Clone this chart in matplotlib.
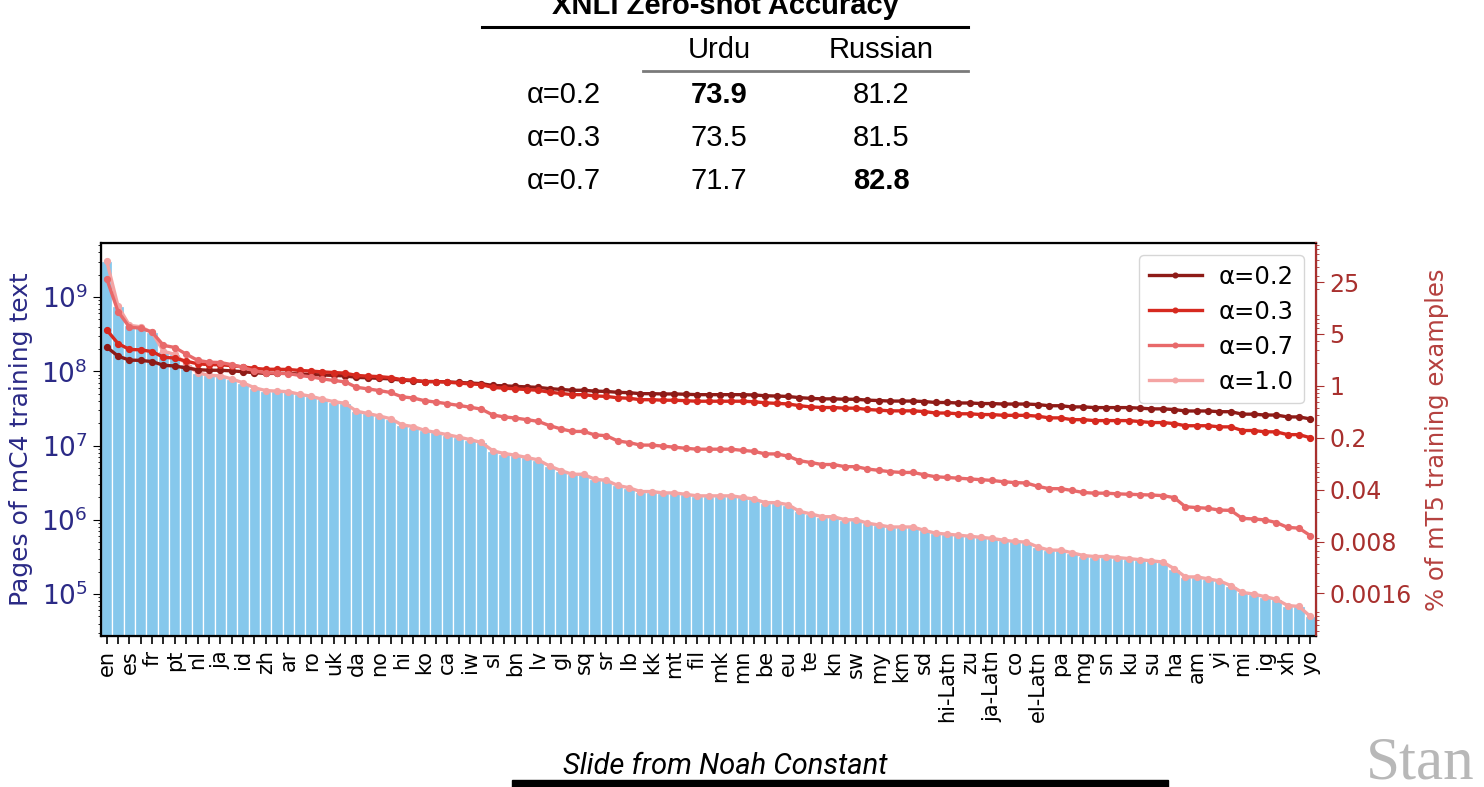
import numpy as np
import matplotlib.pyplot as plt
from matplotlib.lines import Line2D
from matplotlib.patches import Rectangle
from matplotlib.ticker import LogLocator, NullFormatter

# mC4 languages, sorted by size
langs = ['en', 'ru', 'es', 'de', 'fr', 'it', 'pt', 'pl', 'nl', 'tr',
         'ja', 'vi', 'id', 'cs', 'zh', 'fa', 'ar', 'sv', 'ro', 'el',
         'uk', 'hu', 'da', 'fi', 'no', 'bg', 'hi', 'sk', 'ko', 'th',
         'ca', 'ms', 'iw', 'lt', 'sl', 'mr', 'bn', 'et', 'lv', 'az',
         'gl', 'cy', 'sq', 'ta', 'sr', 'ne', 'lb', 'hy', 'kk', 'ka',
         'mt', 'af', 'fil', 'is', 'mk', 'ml', 'mn', 'ur', 'be', 'la',
         'eu', 'tg', 'te', 'fy', 'kn', 'ky', 'sw', 'so', 'my', 'uz',
         'km', 'ru-Latn', 'sd', 'gu', 'hi-Latn', 'jv', 'zu', 'si', 'ja-Latn', 'eo',
         'co', 'ga', 'el-Latn', 'zh-Latn', 'pa', 'ceb', 'mg', 'ps', 'sn', 'gd',
         'ku', 'hmn', 'su', 'ht', 'ha', 'ny', 'am', 'bg-Latn', 'yi', 'lo',
         'mi', 'sm', 'ig', 'haw', 'xh', 'st', 'yo']

# pages of mC4 text, in millions
pages_m = [3067, 756, 416, 397, 333, 186, 169, 126, 96, 88,
           87, 79, 70, 60, 55, 54, 53, 49, 46, 42,
           39, 37, 29, 27, 25, 23, 19, 18, 16, 15,
           14, 13, 12, 11, 8.5, 7.8, 7.4, 6.9, 6.4, 5.3,
           4.6, 4.1, 4.1, 3.5, 3.4, 2.9, 2.7, 2.4, 2.4, 2.3,
           2.3, 2.2, 2.1, 2.1, 2.1, 2.1, 2.0, 1.9, 1.7, 1.7,
           1.6, 1.3, 1.2, 1.1, 1.1, 1.0, 1.0, 0.9, 0.85, 0.8,
           0.8, 0.8, 0.72, 0.66, 0.64, 0.62, 0.60, 0.58, 0.56, 0.53,
           0.51, 0.50, 0.43, 0.39, 0.39, 0.36, 0.33, 0.32, 0.32, 0.31,
           0.30, 0.29, 0.28, 0.27, 0.22, 0.17, 0.17, 0.16, 0.15, 0.13,
           0.105, 0.10, 0.092, 0.085, 0.07, 0.068, 0.05]

# % of mT5 training examples for each sampling exponent
alpha02 = [3.33, 2.51, 2.22, 2.20, 2.12, 1.89, 1.85, 1.74, 1.65, 1.62,
           1.62, 1.59, 1.55, 1.50, 1.47, 1.47, 1.47, 1.44, 1.42, 1.40,
           1.38, 1.36, 1.30, 1.28, 1.26, 1.24, 1.19, 1.17, 1.14, 1.14,
           1.13, 1.11, 1.09, 1.07, 1.01, 1.00, 0.982, 0.967, 0.953, 0.916,
           0.894, 0.871, 0.871, 0.848, 0.840, 0.817, 0.808, 0.784, 0.784, 0.777,
           0.777, 0.769, 0.760, 0.760, 0.760, 0.760, 0.760, 0.752, 0.735, 0.728,
           0.719, 0.693, 0.677, 0.667, 0.667, 0.659, 0.659, 0.641, 0.633, 0.623,
           0.623, 0.623, 0.614, 0.596, 0.596, 0.587, 0.587, 0.577, 0.577, 0.568,
           0.568, 0.568, 0.559, 0.539, 0.539, 0.520, 0.520, 0.509, 0.509, 0.509,
           0.509, 0.500, 0.489, 0.489, 0.479, 0.458, 0.458, 0.458, 0.448, 0.448,
           0.415, 0.415, 0.404, 0.404, 0.381, 0.381, 0.358]

alpha03 = [5.67, 3.71, 3.09, 3.05, 2.89, 2.43, 2.36, 2.15, 1.98, 1.93,
           1.92, 1.87, 1.80, 1.72, 1.67, 1.67, 1.66, 1.61, 1.58, 1.54,
           1.51, 1.48, 1.38, 1.35, 1.33, 1.29, 1.21, 1.19, 1.14, 1.14,
           1.12, 1.09, 1.06, 1.04, 0.95, 0.93, 0.91, 0.89, 0.87, 0.82,
           0.79, 0.76, 0.76, 0.73, 0.72, 0.69, 0.68, 0.65, 0.65, 0.64,
           0.64, 0.63, 0.62, 0.62, 0.62, 0.62, 0.62, 0.61, 0.59, 0.58,
           0.57, 0.54, 0.52, 0.51, 0.51, 0.50, 0.50, 0.48, 0.47, 0.46,
           0.46, 0.46, 0.45, 0.43, 0.43, 0.42, 0.42, 0.41, 0.41, 0.40,
           0.40, 0.40, 0.39, 0.37, 0.37, 0.35, 0.35, 0.34, 0.34, 0.34,
           0.34, 0.33, 0.32, 0.32, 0.31, 0.29, 0.29, 0.29, 0.28, 0.28,
           0.25, 0.25, 0.24, 0.24, 0.22, 0.22, 0.20]

alpha07 = [27.8, 10.0, 6.17, 5.97, 5.28, 3.51, 3.28, 2.67, 2.21, 2.08,
           2.06, 1.93, 1.77, 1.59, 1.50, 1.48, 1.46, 1.38, 1.32, 1.24,
           1.18, 1.13, 0.956, 0.910, 0.862, 0.813, 0.711, 0.685, 0.630, 0.603,
           0.574, 0.545, 0.515, 0.485, 0.405, 0.381, 0.368, 0.350, 0.332, 0.291,
           0.263, 0.243, 0.243, 0.218, 0.213, 0.181, 0.172, 0.159, 0.159, 0.154,
           0.149, 0.144, 0.140, 0.140, 0.140, 0.140, 0.135, 0.131, 0.121, 0.121,
           0.113, 0.098, 0.0927, 0.0871, 0.0871, 0.0815, 0.0815, 0.0757, 0.0727, 0.0697,
           0.0681, 0.0681, 0.0634, 0.0596, 0.0583, 0.0570, 0.0557, 0.0544, 0.0531, 0.0510,
           0.0497, 0.0491, 0.0442, 0.0412, 0.0412, 0.0390, 0.0366, 0.0358, 0.0358, 0.0351,
           0.0346, 0.0342, 0.0338, 0.0332, 0.0312, 0.0235, 0.0229, 0.0224, 0.0212, 0.0210,
           0.0164, 0.0161, 0.0156, 0.0144, 0.0124, 0.0121, 0.0096]

right_ticks = [25, 5, 1, 0.2, 0.04, 0.008, 0.0016]
right_tick_labels = ['25', '5', '1', '0.2', '0.04', '0.008', '0.0016']

# XNLI table
table_rows = ['α=0.2', 'α=0.3', 'α=0.7']
urdu = ['73.9', '73.5', '71.7']
russian = ['81.2', '81.5', '82.8']
best_urdu = 0
best_russian = 2

W, H = 1484, 787
fig = plt.figure(figsize=(W / 100, H / 100), dpi=100)

def fx(px):
    return px / W

def fy(py):
    return 1 - py / H

# the table above the chart
sans = ['Liberation Sans', 'DejaVu Sans']
tfs = 21
fig.text(fx(725), fy(6), 'XNLI Zero-shot Accuracy', ha='center', va='center',
         fontsize=tfs, fontweight='bold', family=sans)
fig.add_artist(Line2D([fx(482), fx(968)], [fy(27), fy(27)], color='black', lw=2.2))
fig.text(fx(719), fy(50), 'Urdu', ha='center', va='center', fontsize=tfs, family=sans)
fig.text(fx(881), fy(50), 'Russian', ha='center', va='center', fontsize=tfs, family=sans)
fig.add_artist(Line2D([fx(643), fx(968)], [fy(71), fy(71)], color='#7a7a7a', lw=2))
for i, row in enumerate(table_rows):
    yy = fy(95 + i * 43)
    fig.text(fx(564), yy, row, ha='center', va='center', fontsize=tfs, family=sans)
    fig.text(fx(719), yy, urdu[i], ha='center', va='center', fontsize=tfs, family=sans,
             fontweight='bold' if i == best_urdu else 'normal')
    fig.text(fx(881), yy, russian[i], ha='center', va='center', fontsize=tfs, family=sans,
             fontweight='bold' if i == best_russian else 'normal')

# main chart
ax = fig.add_axes([fx(101), fy(636), fx(1316) - fx(101), fy(243) - fy(636)])
x = np.arange(len(langs))
pages = np.array(pages_m) * 1e6

ax.bar(x, pages, width=1.0, color='#86c8ec', edgecolor='white', linewidth=0.9, zorder=1)
ax.set_yscale('log')
ylo, yhi = 2.72e4, 5.34e9
ax.set_ylim(ylo, yhi)
ax.set_xlim(-0.5, len(langs) - 0.5)

c02, c03, c07, c10 = '#8e1b17', '#d6291f', '#e8696a', '#f4a4a3'
lw, ms = 2.4, 4.2
l10, = ax.plot(x, pages, '-o', color=c10, lw=lw, ms=ms, zorder=3)

ax.set_xticks(x)
ax.set_xticklabels([l if i % 2 == 0 else '' for i, l in enumerate(langs)],
                   rotation=90, fontsize=15)
ax.tick_params(axis='x', length=6, width=1.2, pad=4)
ax.tick_params(axis='y', which='major', labelsize=19, labelcolor='#2b2a86', length=6)
ax.yaxis.set_minor_locator(LogLocator(base=10, subs='auto', numticks=50))
ax.yaxis.set_minor_formatter(NullFormatter())
ax.set_ylabel('Pages of mC4 training text', color='#2b2a86', fontsize=18, labelpad=6)
for s in ['left', 'bottom', 'top']:
    ax.spines[s].set_linewidth(1.6)

# right axis: share of training examples (1% <-> 6.37e7 pages)
ax2 = ax.twinx()
ax2.set_yscale('log')
scale = 100 / 6.37e9
ax2.set_ylim(ylo * scale, yhi * scale)
l02, = ax2.plot(x, alpha02, '-o', color=c02, lw=lw, ms=ms)
l03, = ax2.plot(x, alpha03, '-o', color=c03, lw=lw, ms=ms)
l07, = ax2.plot(x, alpha07, '-o', color=c07, lw=lw, ms=ms)

red = '#a8302e'
ax2.set_yticks(right_ticks)
ax2.set_yticklabels(right_tick_labels)
ax2.yaxis.set_minor_locator(LogLocator(base=10, subs='auto', numticks=50))
ax2.yaxis.set_minor_formatter(NullFormatter())
ax2.tick_params(axis='y', which='both', colors=red, labelsize=17)
ax2.tick_params(axis='y', which='major', length=6)
ax2.spines['right'].set_color(red)
ax2.spines['right'].set_linewidth(1.6)
ax2.set_ylabel('% of mT5 training examples', color='#b5413f', fontsize=17.5, labelpad=10)

ax2.legend([l02, l03, l07, l10], ['α=0.2', 'α=0.3', 'α=0.7', 'α=1.0'],
           loc='upper right', fontsize=17.5, handlelength=2.2, handletextpad=0.7,
           borderaxespad=0.5, labelspacing=0.45, markerscale=0.8)

# slide footer
fig.text(fx(725), fy(766), 'Slide from Noah Constant', ha='center', va='center',
         fontsize=21, style='italic', family=['Roboto', 'DejaVu Sans'])
fig.add_artist(Rectangle((fx(512), 0), fx(1168) - fx(512), 7 / H,
                         transform=fig.transFigure, color='black'))
fig.text(fx(1366), fy(764), 'Stan', ha='left', va='center', fontsize=44,
         color='#b8b8b8', family=['Liberation Serif', 'DejaVu Serif'])

fig.savefig('out.png', dpi=100)
